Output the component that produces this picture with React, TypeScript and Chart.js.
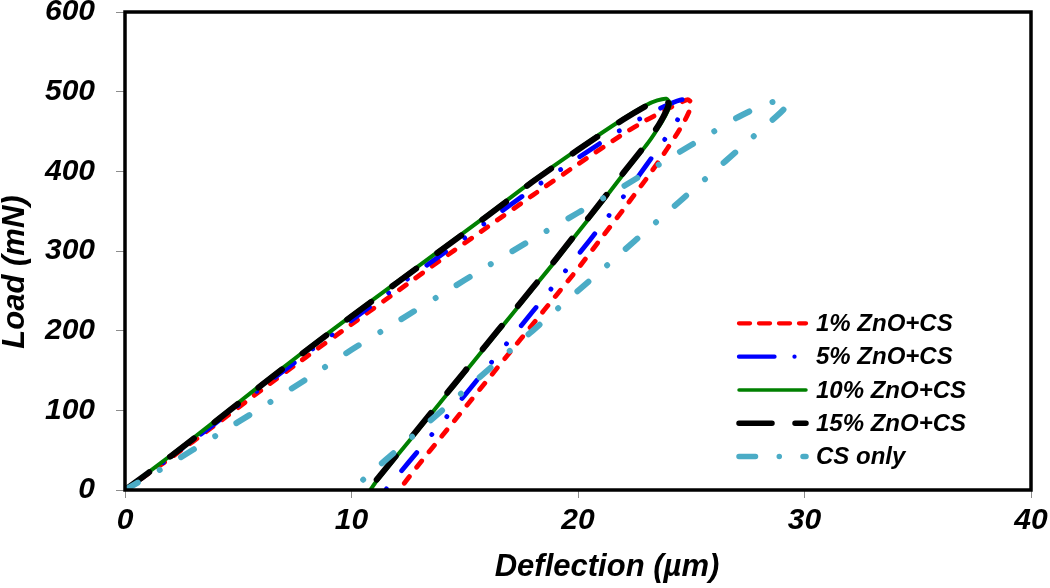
import React, { useEffect, useRef } from "react";
import { Chart, registerables } from "chart.js";

Chart.register(...registerables);

// ---- data (deflection in µm, load in mN) ----
const seriesNames = ["1% ZnO+CS", "5% ZnO+CS", "10% ZnO+CS", "15% ZnO+CS", "CS only"];
const seriesColors = ["#FF0000", "#0000FF", "#008000", "#000000", "#4BACC6"];

const xAxisTicks = [0, 10, 20, 30, 40];
const yAxisTicks = [0, 100, 200, 300, 400, 500, 600];

const zno1Deflection = [0, 2, 4, 6, 8, 10, 12, 14, 16, 18, 20, 22, 23, 24, 24.5, 24.85,
  25.0, 24.95, 24.7, 24.3, 23.6, 23, 22, 21, 20, 19, 18, 17, 16, 15, 14, 13, 12.1];
const zno1Load = [0, 40, 82, 125, 167, 208, 249, 290, 330, 370, 409, 447, 464, 479, 486, 490,
  486, 478, 463, 444, 414, 390, 352, 315, 278, 243, 208, 173, 138, 103, 68, 33, 0];

const zno5Deflection = [0, 2, 4, 6, 8, 10, 12, 14, 16, 18, 20, 22, 23, 24, 24.6,
  24.75, 24.65, 24.4, 24, 23, 22, 21, 20, 19, 18, 17, 16, 15, 14, 13, 12, 11.5];
const zno5Load = [0, 41, 84, 128, 171, 213, 255, 296, 337, 378, 417, 454, 470, 484, 490,
  486, 478, 465, 447, 407, 368, 331, 295, 259, 224, 189, 154, 119, 85, 51, 17, 0];

const zno10Deflection = [0, 2, 4, 6, 8, 10, 12, 14, 16, 18, 20, 22, 23, 23.5, 23.9,
  24.05, 23.98, 23.7, 23.1, 22.1, 21.1, 20.1, 19.1, 18.1, 17.1, 16.1, 15.1, 14.1, 13.1, 12.1, 11.1, 10.83];
const zno10Load = [0, 43, 87, 132, 176, 219, 261, 303, 345, 388, 428, 466, 483, 489, 491,
  486, 477, 462, 436, 400, 363, 327, 291, 256, 221, 186, 151, 116, 81, 46, 11, 0];

const zno15Deflection = [0, 2, 4, 6, 8, 10, 12, 14, 16, 18, 20, 22, 23, 23.5, 23.85,
  24.0, 23.9, 23.6, 23.0, 22, 21, 20, 19, 18, 17, 16, 15, 14, 13, 12, 11, 10.75];
const zno15Load = [0, 42, 86, 131, 175, 218, 260, 302, 344, 387, 427, 465, 482, 488, 490,
  485, 476, 460, 434, 398, 361, 325, 289, 254, 219, 184, 149, 114, 79, 44, 9, 0];

const csDeflection = [0, 2, 4, 6, 8, 10, 12, 14, 16, 18, 20, 22, 24, 26, 27, 28, 28.7, 29.1,
  29.25, 29.15, 28.8, 28, 27, 26, 25, 24, 23, 22, 21, 20, 19, 18, 17, 16, 15, 14, 13, 12, 11, 10];
const csLoad = [0, 33, 68, 103, 139, 176, 211, 246, 281, 315, 348, 381, 416, 450, 467, 481, 488, 490,
  487, 480, 470, 450, 425, 400, 375, 350, 325, 300, 275, 250, 225, 200, 175, 150, 125, 100, 75, 50, 25, 0];

const seriesDeflections = [zno1Deflection, zno5Deflection, zno10Deflection, zno15Deflection, csDeflection];
const seriesLoads = [zno1Load, zno5Load, zno10Load, zno15Load, csLoad];

// ---- styles ----
const FONT = "'Liberation Sans', Arial, sans-serif";
const lineWidths = [4.8, 4.8, 4, 6, 6];
const plotDashes: number[][] = [
  [8.2, 11.8],
  [23.5, 23.5, 0.01, 23.5, 0.01, 23.5],
  [],
  [30, 26],
  [15, 25, 0.01, 25],
];
const legendDashes: number[][] = [
  [11, 9],
  [35.5, 20, 0.01, 40],
  [],
  [33, 23],
  [16.5, 23.75, 0.01, 23.75],
];
const drawOrder = [5, 4, 3, 2, 1];

const overlayPlugin = {
  id: "overlay",
  afterDatasetsDraw(chart: any) {
    const { ctx, chartArea: a } = chart;
    ctx.save();
    ctx.strokeStyle = "#000";
    ctx.lineWidth = 3.5;
    ctx.strokeRect(a.left, a.top, a.right - a.left, a.bottom - a.top);
    ctx.restore();
  },
  afterDraw(chart: any) {
    const { ctx } = chart;
    ctx.save();
    // legend
    const rowY = [323.3, 356.7, 390, 423.3, 456.6];
    const x0 = 739;
    const x1 = 806;
    seriesNames.forEach((name, i) => {
      const y = rowY[i];
      ctx.beginPath();
      ctx.strokeStyle = seriesColors[i];
      ctx.lineWidth = lineWidths[i] - 0.5;
      ctx.lineCap = "round";
      ctx.setLineDash(legendDashes[i]);
      ctx.moveTo(x0, y);
      ctx.lineTo(x1, y);
      ctx.stroke();
      ctx.setLineDash([]);
      ctx.fillStyle = "#000";
      ctx.font = `italic bold 24px ${FONT}`;
      ctx.textAlign = "left";
      ctx.textBaseline = "middle";
      ctx.fillText(name, 816, y + 1);
    });
    // axis titles
    ctx.fillStyle = "#000";
    ctx.font = `italic bold 31px ${FONT}`;
    ctx.textAlign = "center";
    ctx.textBaseline = "alphabetic";
    ctx.fillText("Deflection (µm)", 607, 576);
    ctx.translate(24, 272);
    ctx.rotate(-Math.PI / 2);
    ctx.fillText("Load (mN)", 0, 0);
    ctx.restore();
  },
};

export default function App() {
  const canvasRef = useRef<HTMLCanvasElement | null>(null);

  useEffect(() => {
    if (!canvasRef.current) return;
    const datasets = seriesNames.map((name, i) => ({
      label: name,
      data: seriesDeflections[i].map((x, j) => ({ x, y: seriesLoads[i][j] })),
      showLine: true,
      borderColor: seriesColors[i],
      backgroundColor: seriesColors[i],
      borderWidth: lineWidths[i],
      borderDash: plotDashes[i],
      borderCapStyle: "round" as const,
      borderJoinStyle: "round" as const,
      pointRadius: 0,
      pointHoverRadius: 0,
      tension: 0.2,
      fill: false,
      order: drawOrder[i],
    }));

    const tickFont = { family: FONT, size: 30, weight: "bold" as const, style: "italic" as const };

    const chart = new Chart(canvasRef.current, {
      type: "scatter",
      data: { datasets },
      options: {
        animation: false,
        responsive: false,
        events: [],
        layout: { padding: { left: 0, right: 19, top: 12, bottom: 0 } },
        plugins: {
          legend: { display: false },
          tooltip: { enabled: false },
        },
        scales: {
          x: {
            type: "linear",
            min: xAxisTicks[0],
            max: xAxisTicks[xAxisTicks.length - 1],
            afterBuildTicks: (scale: any) => {
              scale.ticks = xAxisTicks.map((v) => ({ value: v }));
            },
            afterFit: (scale: any) => {
              scale.height = 98;
              scale.paddingLeft = 0;
              scale.paddingRight = 0;
            },
            ticks: { color: "#000", font: tickFont, padding: 5, maxRotation: 0 },
            grid: { drawOnChartArea: false, drawTicks: true, tickLength: 8, color: "#8c8c8c", lineWidth: 1 },
            border: { display: false },
            title: { display: false },
          },
          y: {
            type: "linear",
            min: yAxisTicks[0],
            max: yAxisTicks[yAxisTicks.length - 1],
            afterBuildTicks: (scale: any) => {
              scale.ticks = yAxisTicks.map((v) => ({ value: v }));
            },
            afterFit: (scale: any) => {
              scale.width = 125;
              scale.paddingTop = 0;
              scale.paddingBottom = 0;
            },
            ticks: { color: "#000", font: tickFont, padding: 21 },
            grid: { drawOnChartArea: false, drawTicks: true, tickLength: 9, color: "#8c8c8c", lineWidth: 1 },
            border: { display: false },
            title: { display: false },
          },
        },
      },
      plugins: [overlayPlugin],
    });
    return () => chart.destroy();
  }, []);

  return (
    <div style={{ position: "fixed", left: 0, top: 0, width: 1050, height: 588, background: "#fff" }}>
      <canvas ref={canvasRef} width={1050} height={588} style={{ display: "block" }} />
    </div>
  );
}
